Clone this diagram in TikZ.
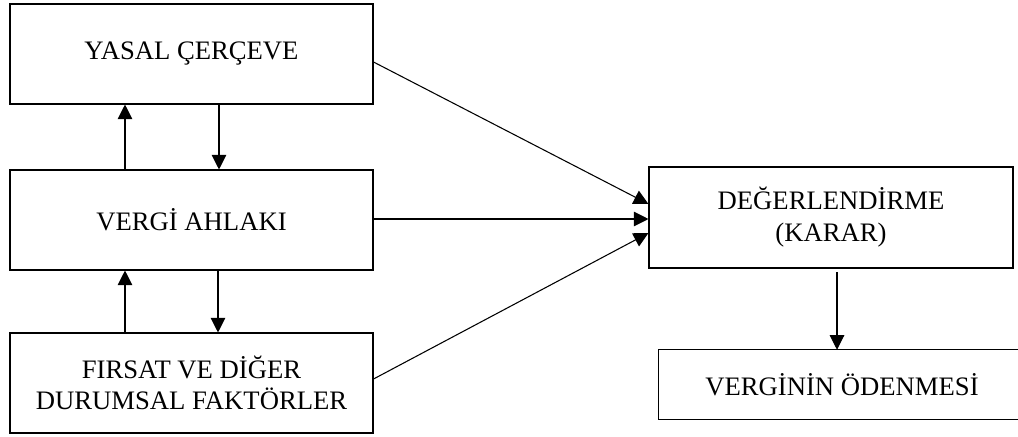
\documentclass[tikz,border=0pt]{standalone}
\usepackage{fontspec}
\setmainfont{Liberation Serif}
\usetikzlibrary{arrows.meta,calc}
\begin{document}
\begin{tikzpicture}[x=0.75pt,y=-0.75pt,
  txt/.style={align=center,inner sep=0pt,
    font=\fontsize{20pt}{23pt}\selectfont},
  box/.style={txt,draw,line width=0.8pt},
  sidebox/.style={box,minimum width=272.25pt,minimum height=75pt},
  frame/.style={line width=0.8pt},
  arr/.style={line width=0.8pt,-{Triangle[length=11pt,width=11pt]}}]
\useasboundingbox (0,0) rectangle (1018,436);
\clip (0,0) rectangle (1018,436);
\fill[white] (0,0) rectangle (1018,436);

% left column
\node[sidebox] (yasal) at (191.5,54) {YASAL ÇERÇEVE};
\node[sidebox] (ahlak) at (191.5,220) {VERGİ AHLAKI};
\node[sidebox] (firsat) at (191.5,383) {FIRSAT VE DİĞER\\DURUMSAL FAKTÖRLER};

% right column
\node[box,minimum width=273pt,minimum height=75.75pt,
  font=\fontsize{20pt}{24pt}\selectfont] (karar) at (831,217.5)
  {DEĞERLENDİRME\\(KARAR)};
\node[txt,minimum width=274.5pt,minimum height=51.75pt] (odeme) at (842,384.5)
  {VERGİNİN ÖDENMESİ};
% the payment box runs on past the right border
\draw[frame] ([xshift=30pt]odeme.north east) -- (odeme.north west)
  -- (odeme.south west) -- ([xshift=30pt]odeme.south east);

% feedback arrows in the left column
\draw[arr] (ahlak.north -| 125,0) -- (yasal.south -| 125,0);
\draw[arr] (yasal.south -| 219,0) -- (ahlak.north -| 219,0);
\draw[arr] (firsat.north -| 125,0) -- (ahlak.south -| 125,0);
\draw[arr] (ahlak.south -| 218,0) -- (firsat.north -| 218,0);

% arrows into the decision box
\draw[arr] (yasal.east |- 0,62) -- (karar.west |- 0,204);
\draw[arr] (ahlak.east |- 0,219) -- (karar.west |- 0,219);
\draw[arr] (firsat.east |- 0,379) -- (karar.west |- 0,233);

% decision leads to payment
\coordinate (kararout) at (837,272);
\draw[arr] (kararout) -- (kararout |- odeme.north);
\end{tikzpicture}
\end{document}
